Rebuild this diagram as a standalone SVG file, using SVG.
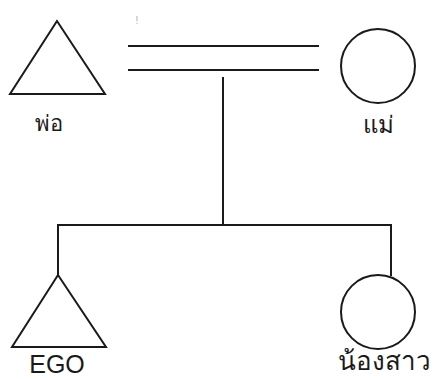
<svg xmlns="http://www.w3.org/2000/svg" width="433" height="379" viewBox="0 0 433 379">
<style>
.s{fill:none;stroke:#1a1a1a;stroke-width:2}
.t{font-family:"Liberation Sans","Noto Sans",sans-serif;font-size:22px;fill:#1a1a1a;text-anchor:middle}
</style>
<rect width="433" height="379" fill="#ffffff"/>
<text x="137" y="24" style="font-family:'Liberation Sans',sans-serif;font-size:10px;fill:#b0b0b0" text-anchor="middle">!</text>
<g id="connectors">
<line class="s" x1="128" y1="46" x2="319" y2="46"/>
<line class="s" x1="128" y1="70" x2="319" y2="70"/>
<line class="s" x1="223" y1="77" x2="223" y2="226"/>
<polyline class="s" points="58,275 58,225 391,225 391,276"/>
</g>
<g id="father">
<polygon class="s" points="57,21 10,94 105,94"/>
<text class="t" x="49" y="131">พ่อ</text>
</g>
<g id="mother">
<circle class="s" cx="378" cy="66" r="37"/>
<text class="t" x="378" y="133" style="font-size:24px">แม่</text>
</g>
<g id="ego">
<polygon class="s" points="58,275 12,347 106,347"/>
<text class="t" x="57" y="373" style="font-size:25px">EGO</text>
</g>
<g id="sister">
<circle class="s" cx="378" cy="312" r="37"/>
<text class="t" x="384" y="370" style="font-size:26px">น้องสาว</text>
</g>
</svg>
